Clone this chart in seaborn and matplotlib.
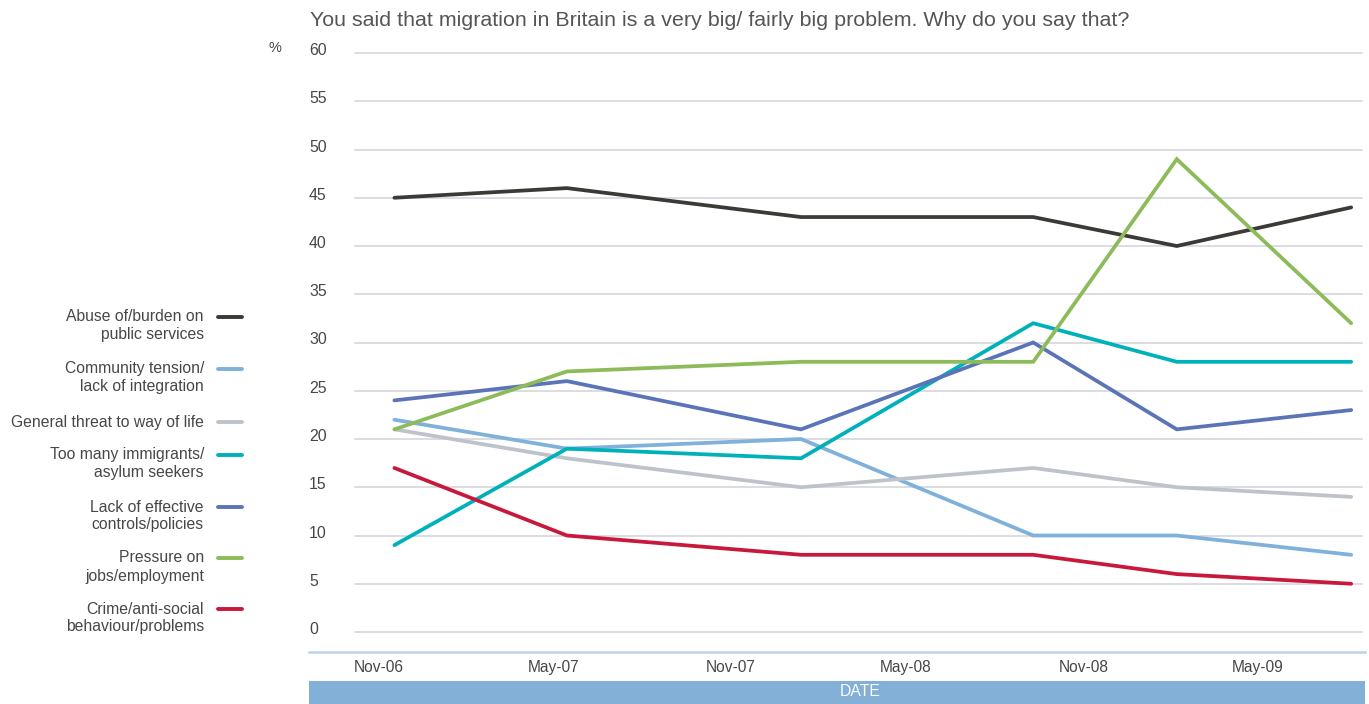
import matplotlib
matplotlib.use("Agg")
import matplotlib.pyplot as plt
import matplotlib.dates as mdates
import matplotlib.transforms as mtrans
from matplotlib.patches import Rectangle
from matplotlib.lines import Line2D
import seaborn as sns
import pandas as pd

# ---- data ----
survey_dates = ["2006-11-17", "2007-05-15", "2008-01-13", "2008-09-10", "2009-02-06", "2009-08-06"]
abuse_services = [45, 46, 43, 43, 40, 44]
community_tension = [22, 19, 20, 10, 10, 8]
general_threat = [21, 18, 15, 17, 15, 14]
too_many_immigrants = [9, 19, 18, 32, 28, 28]
lack_of_controls = [24, 26, 21, 30, 21, 23]
pressure_on_jobs = [21, 27, 28, 28, 49, 32]
crime_antisocial = [17, 10, 8, 8, 6, 5]

series_names = [
    "Abuse of/burden on\npublic services",
    "Community tension/\nlack of integration",
    "General threat to way of life",
    "Too many immigrants/\nasylum seekers",
    "Lack of effective\ncontrols/policies",
    "Pressure on\njobs/employment",
    "Crime/anti-social\nbehaviour/problems",
]
series_values = [abuse_services, community_tension, general_threat,
                 too_many_immigrants, lack_of_controls, pressure_on_jobs, crime_antisocial]
series_colors = ["#3b3a36", "#7fb1da", "#bec2cb", "#00b1ba", "#5b74b8", "#8dbb5a", "#c8183b"]

tick_dates = ["2006-11-01", "2007-05-01", "2007-11-01", "2008-05-01", "2008-11-01", "2009-05-01"]
tick_labels = ["Nov-06", "May-07", "Nov-07", "May-08", "Nov-08", "May-09"]
y_ticks = list(range(0, 61, 5))

title = "You said that migration in Britain is a very big/ fairly big problem. Why do you say that?"

rows = []
for name, vals in zip(series_names, series_values):
    for d, v in zip(survey_dates, vals):
        rows.append({"date": pd.Timestamp(d), "value": v, "series": name})
df = pd.DataFrame(rows)

# ---- style ----
sns.set_style("white")
plt.rcParams["font.family"] = ["Liberation Sans", "DejaVu Sans"]
TXT = "#474747"

W, H = 1369, 704
fig = plt.figure(figsize=(W / 100, H / 100), dpi=100)

def fx(px):
    return px / W

def fy(py):
    return 1 - py / H

ax_left, ax_right, ax_bottom_px, ax_top_px = 309, 1365, 652, 40
ax = fig.add_axes([fx(ax_left), fy(ax_bottom_px), fx(ax_right - ax_left), (ax_bottom_px - ax_top_px) / H])

px_per_unit = (632 - 53) / 60.0
ymin = -(652 - 632) / px_per_unit
ymax = 60 + (53 - ax_top_px) / px_per_unit

# grid lines (partial width)
gx0 = (355 - ax_left) / (ax_right - ax_left)
gx1 = (1362 - ax_left) / (ax_right - ax_left)
for yv in y_ticks:
    ax.axhline(yv, xmin=gx0, xmax=gx1, color="#dcdde3", lw=1.4, zorder=0)

sns.lineplot(data=df, x="date", y="value", hue="series", hue_order=series_names,
             palette=series_colors, linewidth=2.7, legend=False, ax=ax,
             solid_capstyle="round", solid_joinstyle="miter", zorder=3)

# x scale: Nov-01-2006 at px 379, ~0.963 px/day
origin = mdates.date2num(pd.Timestamp("2006-11-01"))
ppd = 0.9635
ax.set_xlim(origin - (379 - ax_left) / ppd, origin + (ax_right - 379) / ppd)
ax.set_ylim(ymin, ymax)

ax.set_xticks([mdates.date2num(pd.Timestamp(d)) for d in tick_dates])
ax.set_xticklabels(tick_labels)
ax.set_yticks(y_ticks)
ax.set_yticklabels([str(v) for v in y_ticks])
ax.tick_params(axis="x", length=0, pad=6, labelsize=11.2, labelcolor=TXT)
ax.tick_params(axis="y", length=0, pad=0, labelsize=11.4, labelcolor=TXT)
offset = mtrans.ScaledTranslation(0, 4 / 100, fig.dpi_scale_trans)
for lab in ax.get_yticklabels():
    lab.set_horizontalalignment("left")
    lab.set_transform(lab.get_transform() + offset)
ax.set_xlabel("")
ax.set_ylabel("")

for s in ["top", "right", "left"]:
    ax.spines[s].set_visible(False)
ax.spines["bottom"].set_color("#b9d4eb")
ax.spines["bottom"].set_linewidth(1.8)

# title and % label
fig.text(fx(310), fy(21), title, ha="left", va="center", fontsize=15.4, color="#555555")
fig.text(fx(275), fy(48), "%", ha="center", va="center", fontsize=10.5, color=TXT)

# DATE bar
fig.add_artist(Rectangle((fx(309), 0), fx(1365 - 309), (704 - 681) / H,
                         transform=fig.transFigure, facecolor="#82b0d6", edgecolor="none"))
fig.text(fx(860), fy(692), "DATE", ha="center", va="center", fontsize=11.3, color="white")

# legend (manual, right-aligned text with swatch to the right)
legend_y = [317, 369, 422, 455, 507, 558, 609]
for name, col, ly in zip(series_names, series_colors, legend_y):
    for i, line in enumerate(name.split("\n")):
        fig.text(fx(204), fy(ly + 18 * i), line, ha="right", va="center",
                 fontsize=11.3, color=TXT)
    fig.add_artist(Line2D([fx(218), fx(242)], [fy(ly), fy(ly)], transform=fig.transFigure,
                          color=col, lw=2.8, solid_capstyle="round"))

fig.savefig("out.png", dpi=100)
